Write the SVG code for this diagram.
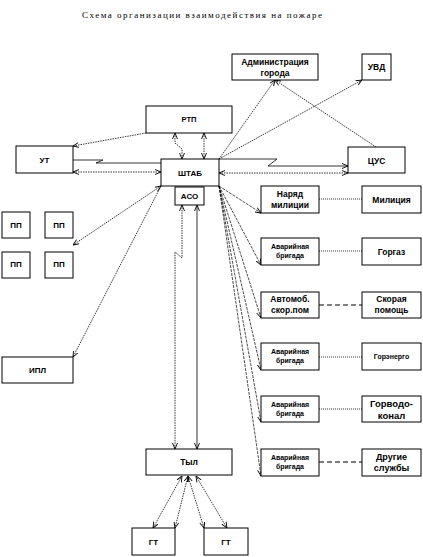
<svg xmlns="http://www.w3.org/2000/svg" width="423" height="557" viewBox="0 0 423 557">
<style>
.b{fill:#fff;stroke:#000;stroke-width:1}
.t{font-family:"Liberation Sans",Arial,sans-serif;font-weight:bold;fill:#000;text-anchor:middle}
.s{font-size:7px}
.l{fill:none;stroke:#000;stroke-width:0.8}
.d{fill:none;stroke:#000;stroke-width:0.8;stroke-dasharray:1.5,1}
.f{fill:none;stroke:#000;stroke-width:0.7;stroke-dasharray:3,1}
.h{fill:none;stroke:#000;stroke-width:0.8;stroke-dasharray:1,1}
.k{fill:none;stroke:#000;stroke-width:1;stroke-dasharray:5,3}
</style>
<defs>
<marker id="a" viewBox="0 0 6 6" refX="6" refY="3" markerWidth="6" markerHeight="6" markerUnits="userSpaceOnUse" orient="auto-start-reverse">
<path d="M0,0.5 L6,3 L0,5.5" fill="none" stroke="#000" stroke-width="0.9"/>
</marker>
</defs>
<rect width="423" height="557" fill="#fff"/>
<text x="82" y="18" font-family="Liberation Serif,Times New Roman,serif" font-size="9" textLength="240" lengthAdjust="spacing" fill="#000">Схема организации взаимодействия на пожаре</text>

<g id="connectors">
<path class="d" d="M146,133 L73,146" marker-end="url(#a)"/>
<path class="d" d="M175,133 L175,143 L182,149 L182,159" marker-start="url(#a)" marker-end="url(#a)"/>
<path class="d" d="M204,133 L204,159" marker-start="url(#a)" marker-end="url(#a)"/>
<path class="l" d="M73,160 L103,160 L96,163 L161,163"/>
<path class="d" d="M73,172 L161,172" marker-start="url(#a)" marker-end="url(#a)"/>
<path class="l" d="M219,159 L277,159 L268,166 L348,166" marker-end="url(#a)"/>
<path class="d" d="M219,173 L348,173" marker-start="url(#a)" marker-end="url(#a)"/>
<path class="d" d="M219,159 L275,80" marker-end="url(#a)"/>
<path class="d" d="M376,147 L275,80" marker-end="url(#a)"/>
<path class="d" d="M219,159 L362,80" marker-end="url(#a)"/>
<path class="d" d="M161,186 L73,245" marker-start="url(#a)" marker-end="url(#a)"/>
<path class="d" d="M161,186 L73,357" marker-end="url(#a)"/>
<path class="f" d="M219,186 L261,213" marker-end="url(#a)"/>
<path class="f" d="M219,186 L261,265" marker-end="url(#a)"/>
<path class="f" d="M219,186 L261,318" marker-end="url(#a)"/>
<path class="f" d="M219,186 L261,370" marker-end="url(#a)"/>
<path class="f" d="M219,186 L261,422" marker-end="url(#a)"/>
<path class="f" d="M219,186 L261,476" marker-end="url(#a)"/>
<path class="h" d="M319,199 L362,199"/>
<path class="h" d="M319,251 L362,251"/>
<path class="k" d="M319,305 L362,305"/>
<path class="h" d="M319,357 L362,357"/>
<path class="h" d="M319,409 L362,409"/>
<path class="k" d="M319,462 L362,462"/>
<path class="d" d="M182,205 L182,258 L175,252 L175,449" marker-start="url(#a)" marker-end="url(#a)"/>
<path class="l" d="M197,205 L197,449" marker-start="url(#a)" marker-end="url(#a)"/>
<path class="d" d="M182,476 L153,528" marker-start="url(#a)" marker-end="url(#a)"/>
<path class="d" d="M188,476 L175,528" marker-start="url(#a)" marker-end="url(#a)"/>
<path class="d" d="M188,476 L204,528" marker-start="url(#a)" marker-end="url(#a)"/>
<path class="d" d="M196,476 L227,528" marker-start="url(#a)" marker-end="url(#a)"/>
</g>

<g id="admin"><rect class="b" x="232" y="54" width="86" height="26"/><text class="t" x="275" y="65" font-size="8.5">Администрация</text><text class="t" x="275" y="76" font-size="8.5">города</text></g>
<g id="uvd"><rect class="b" x="362" y="54" width="29" height="26"/><text class="t" x="376.5" y="70" font-size="8.5">УВД</text></g>
<g id="rtp"><rect class="b" x="146" y="106" width="86" height="27"/><text class="t" x="189" y="122" font-size="7.5">РТП</text></g>
<g id="ut"><rect class="b" x="16" y="146" width="57" height="27"/><text class="t" x="44.5" y="163" font-size="8">УТ</text></g>
<g id="shtab"><rect class="b" x="161" y="159" width="58" height="27"/><text class="t" x="190" y="176" font-size="8">ШТАБ</text></g>
<g id="cus"><rect class="b" x="348" y="147" width="57" height="26"/><text class="t" x="376.5" y="164" font-size="8.5">ЦУС</text></g>
<g id="aso"><rect class="b" x="175" y="187" width="29" height="18"/><text class="t" x="189.5" y="199" font-size="8">АСО</text></g>

<g id="naryad"><rect class="b" x="261" y="186" width="58" height="27"/><text class="t" x="290" y="197" font-size="8.5">Наряд</text><text class="t" x="290" y="208" font-size="8.5">милиции</text></g>
<g id="militsiya"><rect class="b" x="362" y="186" width="59" height="27"/><text class="t" x="391.5" y="203" font-size="8.5">Милиция</text></g>
<g id="avar1"><rect class="b" x="261" y="238" width="58" height="27"/><text class="t s" x="290" y="249">Аварийная</text><text class="t s" x="290" y="258">бригада</text></g>
<g id="gorgaz"><rect class="b" x="362" y="238" width="59" height="27"/><text class="t" x="391.5" y="255" font-size="8.5">Горгаз</text></g>
<g id="avtomob"><rect class="b" x="261" y="292" width="58" height="26"/><text class="t" x="290" y="302" font-size="8.5">Автомоб.</text><text class="t" x="290" y="313" font-size="8.5">скор.пом</text></g>
<g id="skoraya"><rect class="b" x="362" y="292" width="59" height="26"/><text class="t" x="391.5" y="302" font-size="8.5">Скорая</text><text class="t" x="391.5" y="313" font-size="8.5">помощь</text></g>
<g id="avar2"><rect class="b" x="261" y="343" width="58" height="27"/><text class="t s" x="290" y="354">Аварийная</text><text class="t s" x="290" y="363">бригада</text></g>
<g id="gorenergo"><rect class="b" x="362" y="343" width="59" height="27"/><text class="t s" x="391.5" y="359">Горэнерго</text></g>
<g id="avar3"><rect class="b" x="261" y="396" width="58" height="26"/><text class="t s" x="290" y="407">Аварийная</text><text class="t s" x="290" y="416">бригада</text></g>
<g id="gorvodokanal"><rect class="b" x="362" y="396" width="59" height="26"/><text class="t" x="391.5" y="407" font-size="9.5">Горводо-</text><text class="t" x="391.5" y="419" font-size="9.5">конал</text></g>
<g id="avar4"><rect class="b" x="261" y="449" width="58" height="27"/><text class="t s" x="290" y="460">Аварийная</text><text class="t s" x="290" y="469">бригада</text></g>
<g id="drugie"><rect class="b" x="362" y="449" width="59" height="27"/><text class="t" x="391.5" y="460" font-size="9">Другие</text><text class="t" x="391.5" y="471" font-size="9">службы</text></g>

<g id="pp1"><rect class="b" x="2" y="212" width="28" height="26"/><text class="t" x="16" y="228" font-size="8">ПП</text></g>
<g id="pp2"><rect class="b" x="45" y="212" width="28" height="26"/><text class="t" x="59" y="228" font-size="8">ПП</text></g>
<g id="pp3"><rect class="b" x="2" y="252" width="28" height="26"/><text class="t" x="16" y="267" font-size="8">ПП</text></g>
<g id="pp4"><rect class="b" x="45" y="252" width="28" height="26"/><text class="t" x="59" y="267" font-size="8">ПП</text></g>
<g id="ipl"><rect class="b" x="2" y="357" width="71" height="26"/><text class="t" x="37.5" y="373" font-size="8">ИПЛ</text></g>
<g id="tyl"><rect class="b" x="146" y="449" width="86" height="26"/><text class="t" x="189" y="465" font-size="8.5">Тыл</text></g>
<g id="gt1"><rect class="b" x="132" y="528" width="43" height="27"/><text class="t" x="153.5" y="545" font-size="8">ГТ</text></g>
<g id="gt2"><rect class="b" x="204" y="528" width="44" height="27"/><text class="t" x="226" y="545" font-size="8">ГТ</text></g>
</svg>
